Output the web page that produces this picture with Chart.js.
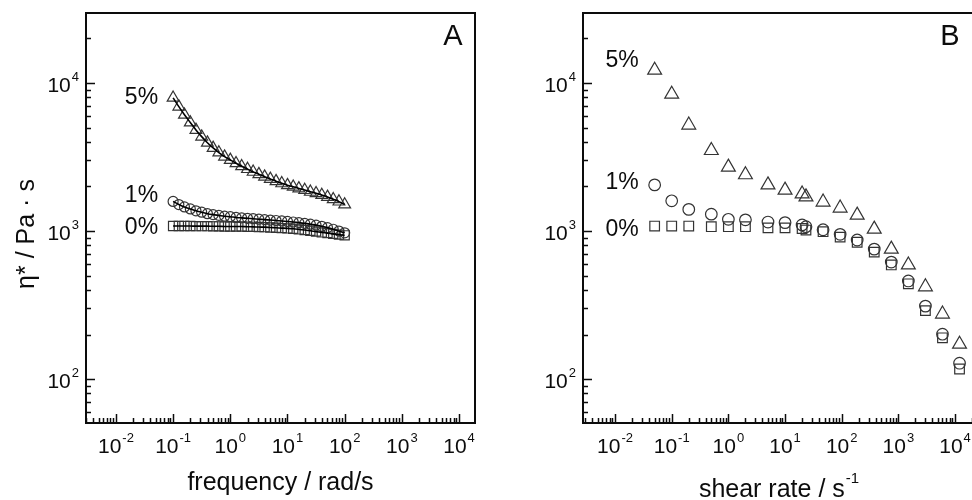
<!DOCTYPE html>
<html lang="en">
<head>
<meta charset="UTF-8">
<title>Viscosity curves</title>
<script src="https://cdn.jsdelivr.net/npm/chart.js"></script>
<style>
    body {
        margin: 0;
        padding: 0;
        background: #fff;
        width: 972px;
        height: 500px;
        overflow: hidden;
        position: relative;
    }
    .panel { position: absolute; top: 0; height: 500px; }
    #panelA { left: 0; width: 486px; }
    #panelB { left: 486px; width: 500px; }
</style>
</head>
<body>
<div class="panel" id="panelA"><canvas id="chartA" width="486" height="500"></canvas></div>
<div class="panel" id="panelB"><canvas id="chartB" width="500" height="500"></canvas></div>

<script>
// Panel A - complex viscosity vs angular frequency
const freq = [0.1, 0.126, 0.158, 0.2, 0.251, 0.316, 0.398, 0.501, 0.631, 0.794,
              1, 1.26, 1.58, 2, 2.51, 3.16, 3.98, 5.01, 6.31, 7.94,
              10, 12.6, 15.8, 20, 25.1, 31.6, 39.8, 50.1, 63.1, 79.4, 100];
const etaA5 = [7940, 6920, 6100, 5410, 4820, 4340, 3950, 3640, 3390, 3180,
               3020, 2870, 2740, 2620, 2510, 2420, 2330, 2250, 2170, 2100,
               2040, 1990, 1940, 1890, 1840, 1800, 1750, 1700, 1640, 1580, 1510];
const etaA1 = [1585, 1510, 1455, 1410, 1370, 1340, 1310, 1290, 1275, 1260,
               1250, 1235, 1227, 1219, 1211, 1202, 1194, 1186, 1178, 1170,
               1161, 1151, 1140, 1127, 1112, 1096, 1076, 1054, 1028, 1000, 973];
const etaA0 = [1081, 1081, 1081, 1081, 1079, 1079, 1079, 1076, 1076, 1074,
               1074, 1072, 1072, 1069, 1067, 1064, 1062, 1057, 1052, 1047,
               1042, 1035, 1026, 1016, 1005, 991, 979, 968, 957, 946, 935];

// Panel B - steady shear viscosity vs shear rate
const shearRate = [0.05, 0.1, 0.2, 0.5, 1, 2, 5, 10, 20, 23.4, 46.9, 93.8,
                   187.5, 375, 750, 1500, 3000, 6000, 12000];
const viscB5 = [12200, 8400, 5200, 3500, 2700, 2400, 2050, 1890, 1780, 1700,
                1570, 1430, 1280, 1030, 755, 590, 420, 275, 172];
const viscB1 = [2050, 1600, 1400, 1300, 1200, 1190, 1150, 1140, 1100, 1070,
                1020, 950, 870, 755, 617, 460, 311, 201, 128];
const viscB0 = [1080, 1080, 1080, 1070, 1070, 1070, 1050, 1050, 1040, 1015,
                990, 910, 840, 720, 590, 440, 290, 190, 117];

const xTickExps = [-2, -1, 0, 1, 2, 3, 4];
const yTickExps = [2, 3, 4];
const seriesNames = ['0%', '1%', '5%'];

const FONT = '"Liberation Sans", Arial, sans-serif';
const INK = '#0c0c0c';
const MARK = '#333';

function pts(xs, ys) {
    return xs.map((v, i) => ({ x: v, y: ys[i] }));
}

function markerSet(xs, ys, style, radius) {
    return {
        data: pts(xs, ys),
        pointStyle: style,
        pointRadius: radius,
        pointBorderWidth: 1.2,
        pointBorderColor: MARK,
        pointBackgroundColor: 'rgba(0,0,0,0)',
        showLine: false
    };
}

function fitSet(xs, ys) {
    return {
        data: pts(xs, ys),
        showLine: true,
        borderColor: '#000',
        borderWidth: 1.6,
        pointRadius: 0,
        tension: 0.3,
        order: -1
    };
}

// draws "10" with a raised exponent; align = 'center' or 'right'
function powerLabel(ctx, px, py, exp, align) {
    const base = '10', sup = String(exp);
    ctx.font = '21px ' + FONT;
    const w1 = ctx.measureText(base).width;
    ctx.font = '13px ' + FONT;
    const w2 = ctx.measureText(sup).width;
    let x0 = align === 'right' ? px - w1 - w2 - 1 : px - (w1 + w2 + 1) / 2;
    ctx.textAlign = 'left';
    ctx.textBaseline = 'middle';
    ctx.font = '21px ' + FONT;
    ctx.fillText(base, x0, py);
    ctx.font = '13px ' + FONT;
    ctx.fillText(sup, x0 + w1 + 1, py - 9);
}

const frame = {
    id: 'frame',
    afterDraw(chart, args, o) {
        const { ctx, chartArea: a, scales: { x, y } } = chart;
        ctx.save();
        ctx.fillStyle = INK;
        ctx.strokeStyle = INK;

        // minor/major ticks, pointing inwards on left and bottom axes
        ctx.lineWidth = 1.5;
        ctx.beginPath();
        for (let k = -3; k <= 4; k++) {
            for (let m = 1; m <= 9; m++) {
                const v = m * Math.pow(10, k);
                if (v >= x.min && v <= x.max) {
                    const px = Math.round(x.getPixelForValue(v)) + 0.5;
                    ctx.moveTo(px, a.bottom);
                    ctx.lineTo(px, a.bottom - (m === 1 ? 9 : 5));
                }
                if (v >= y.min && v <= y.max) {
                    const py = Math.round(y.getPixelForValue(v)) + 0.5;
                    ctx.moveTo(a.left, py);
                    ctx.lineTo(a.left + (m === 1 ? 9 : 5), py);
                }
            }
        }
        ctx.stroke();

        ctx.lineWidth = 2;
        ctx.strokeRect(a.left, a.top, a.right - a.left, a.bottom - a.top);

        // tick labels
        xTickExps.forEach(e => {
            powerLabel(ctx, x.getPixelForValue(Math.pow(10, e)), a.bottom + 24, e, 'center');
        });
        yTickExps.forEach(e => {
            powerLabel(ctx, a.left - 7, y.getPixelForValue(Math.pow(10, e)) + 3, e, 'right');
        });

        // axis titles
        ctx.font = '25px ' + FONT;
        ctx.textBaseline = 'middle';
        const cx = (a.left + a.right) / 2;
        if (o.xSup) {
            ctx.textAlign = 'left';
            const w = ctx.measureText(o.xTitle).width;
            ctx.font = '15px ' + FONT;
            const ws = ctx.measureText(o.xSup).width;
            const x0 = cx - (w + ws) / 2;
            ctx.font = '25px ' + FONT;
            ctx.fillText(o.xTitle, x0, o.xTitleY);
            ctx.font = '15px ' + FONT;
            ctx.fillText(o.xSup, x0 + w + 1, o.xTitleY - 11);
        } else {
            ctx.textAlign = 'center';
            ctx.fillText(o.xTitle, cx, o.xTitleY);
        }
        ctx.save();
        ctx.font = '25px ' + FONT;
        ctx.textAlign = 'center';
        ctx.translate(o.yTitleX, o.yTitleY);
        ctx.rotate(-Math.PI / 2);
        ctx.fillText(o.yTitle, 0, 0);
        ctx.restore();

        // panel letter
        ctx.font = '29px ' + FONT;
        ctx.textAlign = 'center';
        ctx.fillText(o.letter, o.letterX, a.top + 24);

        // series names next to first point of each marker dataset
        ctx.font = '23px ' + FONT;
        ctx.textAlign = 'right';
        o.nameSets.forEach((di, i) => {
            const p = chart.getDatasetMeta(di).data[0];
            ctx.fillText(seriesNames[i], p.x - o.nameGap, p.y + o.nameDy[i]);
        });
        ctx.restore();
    }
};

function makeChart(id, pad, xMax, datasets, frameOpts) {
    return new Chart(document.getElementById(id), {
        type: 'scatter',
        data: { datasets: datasets },
        options: {
            responsive: false,
            animation: false,
            layout: { padding: pad },
            plugins: {
                legend: { display: false },
                tooltip: { enabled: false },
                frame: frameOpts
            },
            scales: {
                x: { type: 'logarithmic', min: pad.xMin, max: xMax, display: false },
                y: { type: 'logarithmic', min: 50.5, max: 29700, display: false }
            }
        },
        plugins: [frame]
    });
}

makeChart('chartA',
    { left: 86, right: 11, top: 13, bottom: 77, xMin: 0.003 }, 19000,
    [
        markerSet(freq, etaA0, 'rect', 6.5),
        markerSet(freq, etaA1, 'circle', 5),
        markerSet(freq, etaA5, 'triangle', 6.8),
        fitSet(freq, etaA0),
        fitSet(freq, etaA1),
        fitSet(freq, etaA5)
    ],
    {
        xTitle: 'frequency / rad/s', xTitleY: 483,
        yTitle: 'η* / Pa · s', yTitleX: 27, yTitleY: 234,
        letter: 'A', letterX: 453,
        nameSets: [0, 1, 2], nameGap: 15, nameDy: [2, -6, 0]
    });

makeChart('chartB',
    { left: 97, right: 12, top: 13, bottom: 77, xMin: 0.00272 }, 21600,
    [
        markerSet(shearRate, viscB0, 'rect', 6.8),
        markerSet(shearRate, viscB1, 'circle', 5.8),
        markerSet(shearRate, viscB5, 'triangle', 8)
    ],
    {
        xTitle: 'shear rate / s', xSup: '-1', xTitleY: 490,
        yTitle: 'viscosity / Pa · s', yTitleX: 520, yTitleY: 234,
        letter: 'B', letterX: 464,
        nameSets: [0, 1, 2], nameGap: 16, nameDy: [4, -2, -10]
    });
</script>
</body>
</html>
